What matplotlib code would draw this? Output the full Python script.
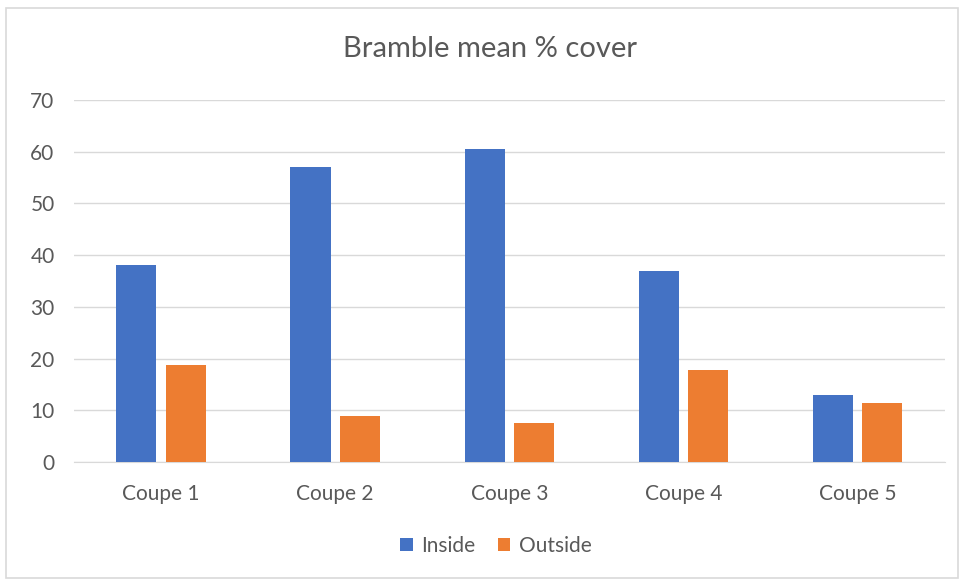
import numpy as np
import matplotlib.pyplot as plt
from matplotlib.patches import Rectangle

categories = ['Coupe 1', 'Coupe 2', 'Coupe 3', 'Coupe 4', 'Coupe 5']
inside = [38, 57, 60.6, 37, 12.9]
outside = [18.8, 8.9, 7.6, 17.8, 11.4]

plt.rcParams['font.family'] = ['Lato', 'DejaVu Sans']
txt = '#595959'

fig = plt.figure(figsize=(9.59, 5.81), dpi=100)
fig.patches.append(Rectangle((0.006, 0.006), 0.993, 0.980, transform=fig.transFigure,
                             fill=False, edgecolor='#D9D9D9', linewidth=1.2))
ax = fig.add_axes([0.0772, 0.2048, 0.9079, 0.6231])

x = np.arange(len(categories))
w = 0.23
ax.bar(x - w/2 - 0.027, inside, w, color='#4472C4', label='Inside', zorder=3)
ax.bar(x + w/2 + 0.027, outside, w, color='#ED7D31', label='Outside', zorder=3)

ax.set_xlim(-0.5, len(categories) - 0.5)
ax.set_ylim(0, 70)
ax.set_yticks(range(0, 71, 10))
ax.yaxis.grid(True, color='#D9D9D9', linewidth=1, zorder=0)
ax.set_xticks(x)
ax.set_xticklabels(categories)
for s in ['top', 'right', 'left']:
    ax.spines[s].set_visible(False)
ax.spines['bottom'].set_color('#D9D9D9')
ax.tick_params(axis='both', length=0, colors=txt, labelsize=15)
ax.tick_params(axis='x', pad=16)
ax.tick_params(axis='y', pad=14)

fig.text(0.511, 0.915, 'Bramble mean % cover', ha='center', va='center', fontsize=21, color=txt)

leg = fig.legend(loc='center', bbox_to_anchor=(0.517, 0.06), ncol=2, frameon=False,
                 fontsize=15, handlelength=0.6, handleheight=0.6, handletextpad=0.4,
                 columnspacing=1.1)
for t in leg.get_texts():
    t.set_color(txt)

fig.savefig('out.png', dpi=100)
